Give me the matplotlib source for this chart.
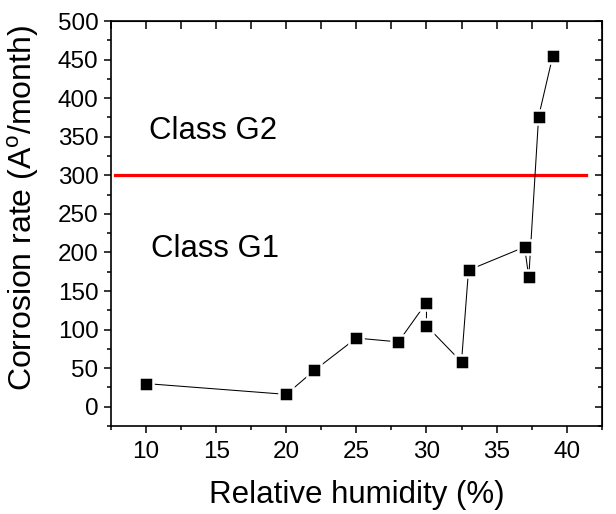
import matplotlib
matplotlib.use("Agg")
import matplotlib.pyplot as plt
from matplotlib.ticker import MultipleLocator

plt.rcParams['font.family'] = ['Liberation Sans', 'DejaVu Sans']
plt.rcParams['mathtext.fontset'] = 'custom'
plt.rcParams['mathtext.rm'] = 'Liberation Sans'

humidity = [10, 20, 22, 25, 28, 30, 30, 32.5, 33, 37, 37.3, 38, 39]
corrosion = [30, 16, 47, 89, 84, 135, 105, 58, 177, 207, 168, 376, 454]
threshold = 300
threshold_x = [7.8, 41.4]
class_labels = ["Class G2", "Class G1"]

fig = plt.figure(figsize=(6.16, 5.14), dpi=100)
ax = fig.add_axes([111/616, 1-426/514, (601.7-111)/616, (426-21)/514])

ax.plot(threshold_x, [threshold, threshold], color='#ff0000', lw=2.3, zorder=2)
ax.plot(humidity, corrosion, color='black', lw=0.75, zorder=3)
ax.plot(humidity, corrosion, ls='none', marker='s', ms=9.6, mfc='black',
        mec='white', mew=1.8, zorder=4)

ax.text(10.2, 347, class_labels[0], fontsize=22.4, va='baseline', ha='left')
ax.text(10.37, 194.5, class_labels[1], fontsize=22.4, va='baseline', ha='left')

ax.set_xlim(7.5, 42.5)
ax.set_ylim(-25, 500)
ax.xaxis.set_major_locator(MultipleLocator(5))
ax.xaxis.set_minor_locator(MultipleLocator(2.5))
ax.yaxis.set_major_locator(MultipleLocator(50))
ax.yaxis.set_minor_locator(MultipleLocator(25))

for s in ax.spines.values():
    s.set_linewidth(1.2)
ax.tick_params(which='major', direction='out', length=5, width=1.1, labelsize=17.5, pad=4)
ax.tick_params(which='minor', direction='out', length=3, width=1.1)
ax.tick_params(axis='x', which='major', pad=6)

sx = ax.secondary_xaxis('top')
sx.xaxis.set_major_locator(MultipleLocator(2.5))
sx.tick_params(which='major', direction='in', length=6, width=1.1, labeltop=False)
sx.tick_params(which='minor', length=0)
sy = ax.secondary_yaxis('right')
sy.yaxis.set_major_locator(MultipleLocator(50))
sy.yaxis.set_minor_locator(MultipleLocator(25))
sy.tick_params(which='major', direction='in', length=5, width=1.1, labelright=False)
sy.tick_params(which='minor', direction='in', length=3, width=1.1)

ax.set_xlabel('Relative humidity (%)', fontsize=22.5, labelpad=12)
ax.set_ylabel(r'Corrosion rate (A$^{\mathrm{o}}$/month)', fontsize=23)
ax.yaxis.set_label_coords(-0.143, 0.538)

fig.savefig('out.png', dpi=100)
